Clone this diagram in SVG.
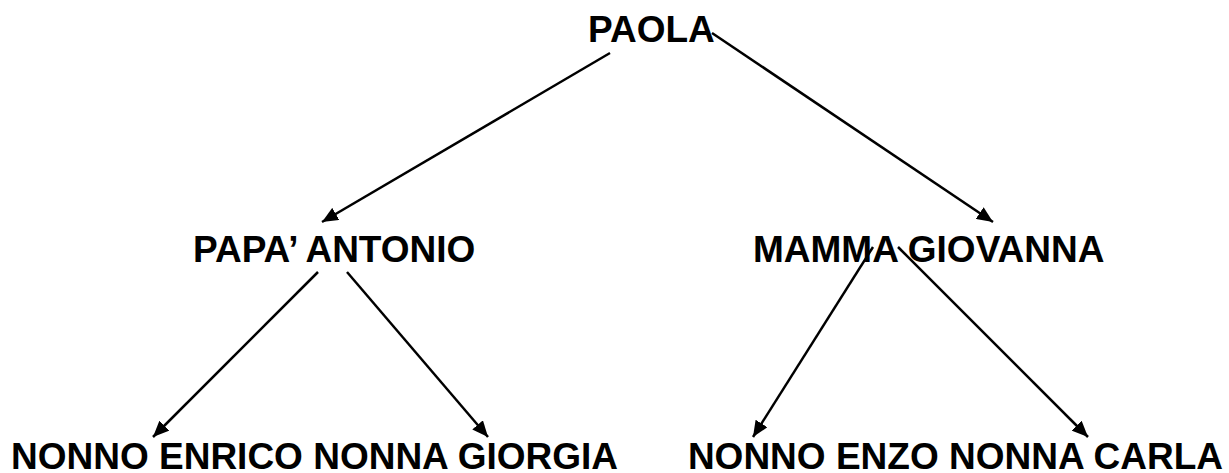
<svg xmlns="http://www.w3.org/2000/svg" width="1229" height="473" viewBox="0 0 1229 473">
<style>
.t{font-family:"Liberation Sans",Arial,sans-serif;font-weight:bold;font-size:37px;fill:#000}
.c{stroke:#000;stroke-width:2.5;fill:none}
</style>
<defs>
<marker id="ah" viewBox="0 0 16 14" refX="16" refY="7" markerWidth="16" markerHeight="14" markerUnits="userSpaceOnUse" orient="auto">
<path d="M0,0 L16,7 L0,14 z" fill="#000"/>
</marker>
</defs>
<rect width="1229" height="473" fill="#fff"/>
<g id="paola"><text class="t" x="588" y="42">PAOLA</text></g>
<g id="papa"><text class="t" x="193" y="262">PAPA’ ANTONIO</text></g>
<g id="mamma"><text class="t" x="753" y="262">MAMMA GIOVANNA</text></g>
<g id="nonni-paterni"><text class="t" x="11" y="469">NONNO ENRICO NONNA GIORGIA</text></g>
<g id="nonni-materni"><text class="t" x="1223" y="469" text-anchor="end">NONNO ENZO NONNA CARLA</text></g>
<g id="connectors">
<line class="c" x1="610" y1="53" x2="322" y2="222" marker-end="url(#ah)"/>
<line class="c" x1="712" y1="33" x2="993" y2="222" marker-end="url(#ah)"/>
<line class="c" x1="318" y1="272" x2="153" y2="437" marker-end="url(#ah)"/>
<line class="c" x1="347" y1="272" x2="488" y2="437" marker-end="url(#ah)"/>
<line class="c" x1="873" y1="247" x2="753" y2="437" marker-end="url(#ah)"/>
<line class="c" x1="898" y1="247" x2="1088" y2="437" marker-end="url(#ah)"/>
</g>
</svg>
